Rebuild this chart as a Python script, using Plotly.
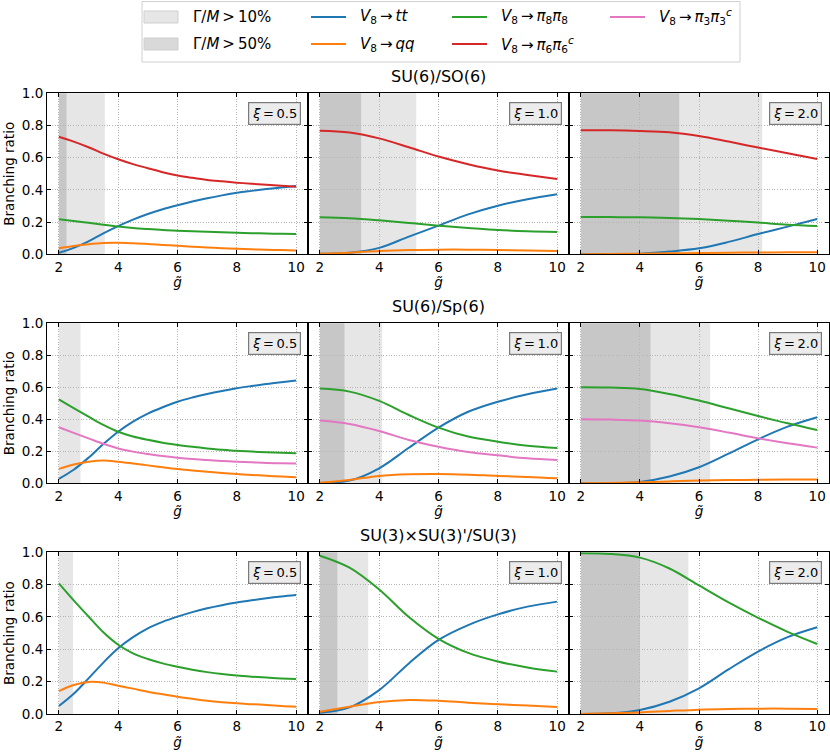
import plotly.graph_objects as go

# ---------------- data ----------------
G_COARSE = [2, 3, 4, 5, 6, 7, 8, 9, 10]
G_FINE = [2, 2.5, 3, 3.5, 4, 4.5, 5, 5.5, 6, 6.5, 7, 7.5, 8, 8.5, 9, 9.5, 10]

ROW_TITLES = ["SU(6)/SO(6)", "SU(6)/Sp(6)", "SU(3)×SU(3)'/SU(3)"]
XI_LABELS = ["0.5", "1.0", "2.0"]
X_TICKS = [2, 4, 6, 8, 10]
Y_TICKS = [0.0, 0.2, 0.4, 0.6, 0.8, 1.0]

# SU(6)/SO(6), xi = 0.5 (G_FINE)
SO6_05_TT = [0.01, 0.04, 0.08, 0.13, 0.175, 0.215, 0.25, 0.28, 0.305, 0.328, 0.348, 0.366, 0.382, 0.394, 0.405, 0.415, 0.424]
SO6_05_QQ = [0.037, 0.052, 0.063, 0.07, 0.071, 0.068, 0.064, 0.058, 0.053, 0.047, 0.042, 0.038, 0.034, 0.031, 0.028, 0.026, 0.024]
SO6_05_P8 = [0.217, 0.207, 0.196, 0.184, 0.173, 0.164, 0.157, 0.151, 0.147, 0.143, 0.14, 0.137, 0.134, 0.131, 0.129, 0.127, 0.126]
SO6_05_P6 = [0.73, 0.70, 0.665, 0.625, 0.59, 0.56, 0.535, 0.51, 0.49, 0.475, 0.462, 0.453, 0.445, 0.438, 0.432, 0.426, 0.42]
# SU(6)/SO(6), xi = 1.0 (G_COARSE)
SO6_10_TT = [0.004, 0.01, 0.04, 0.11, 0.178, 0.248, 0.302, 0.342, 0.373]
SO6_10_QQ = [0.004, 0.01, 0.021, 0.027, 0.029, 0.029, 0.027, 0.023, 0.021]
SO6_10_P8 = [0.23, 0.224, 0.211, 0.195, 0.178, 0.164, 0.151, 0.143, 0.139]
SO6_10_P6 = [0.768, 0.756, 0.72, 0.665, 0.607, 0.559, 0.52, 0.493, 0.468]
# SU(6)/SO(6), xi = 2.0 (G_COARSE)
SO6_20_TT = [0.0, 0.0, 0.004, 0.017, 0.037, 0.077, 0.126, 0.172, 0.219]
SO6_20_QQ = [0.001, 0.002, 0.004, 0.006, 0.008, 0.01, 0.011, 0.012, 0.013]
SO6_20_P8 = [0.232, 0.231, 0.23, 0.226, 0.219, 0.209, 0.197, 0.184, 0.176]
SO6_20_P6 = [0.77, 0.77, 0.766, 0.758, 0.735, 0.70, 0.663, 0.627, 0.592]

# SU(6)/Sp(6), xi = 0.5 (G_FINE)
SP6_05_TT = [0.028, 0.085, 0.16, 0.245, 0.322, 0.385, 0.435, 0.475, 0.51, 0.536, 0.558, 0.577, 0.594, 0.608, 0.621, 0.632, 0.642]
SP6_05_QQ = [0.09, 0.118, 0.135, 0.142, 0.135, 0.124, 0.112, 0.1, 0.089, 0.08, 0.072, 0.065, 0.058, 0.052, 0.047, 0.042, 0.038]
SP6_05_P8 = [0.525, 0.47, 0.417, 0.365, 0.322, 0.293, 0.272, 0.254, 0.24, 0.228, 0.218, 0.21, 0.203, 0.198, 0.194, 0.191, 0.188]
SP6_05_P3 = [0.35, 0.315, 0.281, 0.247, 0.218, 0.198, 0.183, 0.17, 0.16, 0.152, 0.146, 0.14, 0.135, 0.131, 0.127, 0.125, 0.123]
# SU(6)/Sp(6), xi = 1.0 (G_COARSE)
SP6_10_TT = [0.002, 0.017, 0.094, 0.222, 0.348, 0.447, 0.51, 0.556, 0.592]
SP6_10_QQ = [0.004, 0.021, 0.046, 0.056, 0.058, 0.054, 0.046, 0.04, 0.031]
SP6_10_P8 = [0.592, 0.573, 0.515, 0.427, 0.348, 0.292, 0.26, 0.235, 0.221]
SP6_10_P3 = [0.392, 0.371, 0.327, 0.271, 0.229, 0.196, 0.175, 0.156, 0.146]
# SU(6)/Sp(6), xi = 2.0 (G_COARSE)
SP6_20_TT = [0.0, 0.0, 0.008, 0.042, 0.10, 0.185, 0.275, 0.354, 0.413]
SP6_20_QQ = [0.0, 0.002, 0.006, 0.012, 0.017, 0.02, 0.022, 0.023, 0.023]
SP6_20_P8 = [0.60, 0.598, 0.59, 0.558, 0.517, 0.469, 0.421, 0.375, 0.333]
SP6_20_P3 = [0.40, 0.398, 0.392, 0.375, 0.35, 0.317, 0.281, 0.25, 0.223]

# SU(3)xSU(3)'/SU(3), xi = 0.5 (G_FINE)
SU3_05_TT = [0.049, 0.125, 0.22, 0.318, 0.406, 0.475, 0.53, 0.57, 0.602, 0.63, 0.654, 0.673, 0.689, 0.703, 0.716, 0.727, 0.736]
SU3_05_QQ = [0.142, 0.179, 0.198, 0.194, 0.175, 0.157, 0.138, 0.122, 0.107, 0.094, 0.082, 0.073, 0.066, 0.061, 0.056, 0.05, 0.045]
SU3_05_P8 = [0.808, 0.703, 0.603, 0.505, 0.428, 0.375, 0.34, 0.313, 0.292, 0.274, 0.259, 0.247, 0.238, 0.231, 0.225, 0.22, 0.216]
# SU(3)xSU(3)'/SU(3), xi = 1.0 (G_COARSE)
SU3_10_TT = [0.008, 0.041, 0.148, 0.313, 0.458, 0.55, 0.616, 0.664, 0.695]
SU3_10_QQ = [0.014, 0.045, 0.074, 0.087, 0.082, 0.07, 0.06, 0.052, 0.043]
SU3_10_P8 = [0.979, 0.905, 0.77, 0.60, 0.465, 0.378, 0.325, 0.288, 0.262]
# SU(3)xSU(3)'/SU(3), xi = 2.0 (G_COARSE)
SU3_20_TT = [0.0, 0.004, 0.025, 0.076, 0.159, 0.276, 0.386, 0.475, 0.536]
SU3_20_QQ = [0.0, 0.004, 0.01, 0.019, 0.027, 0.031, 0.033, 0.033, 0.031]
SU3_20_P8 = [0.994, 0.99, 0.967, 0.90, 0.795, 0.69, 0.595, 0.508, 0.433]

# Gamma/M bands: upper g-tilde edge (lower edge is g = 2); None = no band
BAND10_END = [[3.55, 5.25, 8.14], [2.73, 4.10, 6.38], [2.48, 3.63, 5.64]]
BAND50_END = [[2.26, 3.39, 5.33], [None, 2.83, 4.36], [None, 2.59, 4.00]]
BAND_START = 2.0

# ---------------- style ----------------
C_TT, C_QQ, C_P8, C_P6, C_P3 = "#1f77b4", "#ff7f0e", "#2ca02c", "#d62728", "#e377c2"
FONT = "DejaVu Sans"
TS = "\u2009"  # thin space

W, H = 830, 756
L, R, T, B = 47, 1, 93, 42
PW, PH = W - L - R, H - T - B
COL_PX = [(47, 308), (308, 569), (569, 829)]
ROW_PX = [(93.3, 254.3), (323.3, 483.3), (552.3, 714.0)]


def px_x(p):
    return (p - L) / PW


def px_y(p):
    return (H - B - p) / PH


panels = [
    [
        (G_FINE, [(SO6_05_TT, C_TT), (SO6_05_QQ, C_QQ), (SO6_05_P8, C_P8), (SO6_05_P6, C_P6)]),
        (G_COARSE, [(SO6_10_TT, C_TT), (SO6_10_QQ, C_QQ), (SO6_10_P8, C_P8), (SO6_10_P6, C_P6)]),
        (G_COARSE, [(SO6_20_TT, C_TT), (SO6_20_QQ, C_QQ), (SO6_20_P8, C_P8), (SO6_20_P6, C_P6)]),
    ],
    [
        (G_FINE, [(SP6_05_TT, C_TT), (SP6_05_QQ, C_QQ), (SP6_05_P8, C_P8), (SP6_05_P3, C_P3)]),
        (G_COARSE, [(SP6_10_TT, C_TT), (SP6_10_QQ, C_QQ), (SP6_10_P8, C_P8), (SP6_10_P3, C_P3)]),
        (G_COARSE, [(SP6_20_TT, C_TT), (SP6_20_QQ, C_QQ), (SP6_20_P8, C_P8), (SP6_20_P3, C_P3)]),
    ],
    [
        (G_FINE, [(SU3_05_TT, C_TT), (SU3_05_QQ, C_QQ), (SU3_05_P8, C_P8)]),
        (G_COARSE, [(SU3_10_TT, C_TT), (SU3_10_QQ, C_QQ), (SU3_10_P8, C_P8)]),
        (G_COARSE, [(SU3_20_TT, C_TT), (SU3_20_QQ, C_QQ), (SU3_20_P8, C_P8)]),
    ],
]

fig = go.Figure()
layout = {}
shapes = []
annotations = []

for r in range(3):
    for c in range(3):
        idx = r * 3 + c + 1
        xs = "x" if idx == 1 else f"x{idx}"
        ys = "y" if idx == 1 else f"y{idx}"
        xkey = "xaxis" if idx == 1 else f"xaxis{idx}"
        ykey = "yaxis" if idx == 1 else f"yaxis{idx}"
        x0, x1 = COL_PX[c]
        y0, y1 = ROW_PX[r]
        common = dict(
            ticks="inside", ticklen=4, tickwidth=1, tickcolor="black",
            mirror="allticks", showline=True, linecolor="black", linewidth=1,
            showgrid=True, gridcolor="#b5b5b5", griddash="1px,1.6px", gridwidth=0.8,
            zeroline=False, tickfont=dict(family=FONT, size=13.5, color="black"),
        )
        layout[xkey] = dict(
            common, domain=[px_x(x0), px_x(x1)], anchor=ys, range=[1.6, 10.4],
            tickvals=X_TICKS, ticktext=[str(v) for v in X_TICKS],
            title=dict(text="<i>g̃</i>", font=dict(family=FONT, size=13.5, color="black"), standoff=2),
        )
        layout[ykey] = dict(
            common, domain=[px_y(y1), px_y(y0)], anchor=xs, range=[0, 1],
            tickvals=Y_TICKS, ticktext=[f"{v:.1f}" for v in Y_TICKS],
            showticklabels=(c == 0),
            title=dict(text="Branching ratio" if c == 0 else "",
                       font=dict(family=FONT, size=13.5, color="black"), standoff=4),
        )
        shapes.append(dict(type="rect", xref=xs, yref=f"{ys} domain", x0=BAND_START,
                           x1=BAND10_END[r][c], y0=0, y1=1, fillcolor="#e6e6e6",
                           line=dict(width=0), layer="below"))
        if BAND50_END[r][c] is not None:
            shapes.append(dict(type="rect", xref=xs, yref=f"{ys} domain", x0=BAND_START,
                               x1=BAND50_END[r][c], y0=0, y1=1, fillcolor="rgba(128,128,128,0.3)",
                               line=dict(width=0), layer="below"))
        gx, series = panels[r][c]
        for vals, col in series:
            fig.add_trace(go.Scatter(x=gx, y=vals, mode="lines", xaxis=xs, yaxis=ys,
                                     line=dict(color=col, width=2, shape="spline", smoothing=1.0),
                                     showlegend=False, hoverinfo="skip"))
        annotations.append(dict(xref=f"{xs} domain", yref=f"{ys} domain", x=0.972, y=0.945,
                                xanchor="right", yanchor="top", showarrow=False,
                                text=f"<i>ξ</i>{TS}={TS}{XI_LABELS[c]}",
                                font=dict(family=FONT, size=13, color="black"),
                                bgcolor="#ececec", bordercolor="#7a7a7a", borderwidth=1.2,
                                borderpad=3))
    annotations.append(dict(xref="paper", yref="paper", x=0.5, y=px_y(ROW_PX[r][0] - 17),
                            xanchor="center", yanchor="middle", showarrow=False,
                            text=ROW_TITLES[r], font=dict(family=FONT, size=16, color="black")))

# ---------------- manual legend ----------------
LEG_FONT = dict(family=FONT, size=15, color="black")
shapes.append(dict(type="rect", xref="paper", yref="paper", x0=px_x(142), x1=px_x(740),
                   y0=px_y(62), y1=px_y(1.5), line=dict(color="#d0d0d0", width=1),
                   fillcolor="white", layer="above"))
ROW_Y = [17, 44]
ARROW = f"{TS}→{TS}"
legend_items = [
    ("patch", "#e6e6e6", f"Γ/<i>M</i>{TS}>{TS}10%", 144, 0),
    ("patch", "#d9d9d9", f"Γ/<i>M</i>{TS}>{TS}50%", 144, 1),
    ("line", C_TT, f"<i>V</i><sub>8</sub>{ARROW}<i>tt</i>", 311, 0),
    ("line", C_QQ, f"<i>V</i><sub>8</sub>{ARROW}<i>qq</i>", 311, 1),
    ("line", C_P8, f"<i>V</i><sub>8</sub>{ARROW}<i>π</i><sub>8</sub><i>π</i><sub>8</sub>", 452, 0),
    ("line", C_P6, f"<i>V</i><sub>8</sub>{ARROW}<i>π</i><sub>6</sub><i>π</i><sub>6</sub><sup><i>c</i></sup>", 452, 1),
    ("line", C_P3, f"<i>V</i><sub>8</sub>{ARROW}<i>π</i><sub>3</sub><i>π</i><sub>3</sub><sup><i>c</i></sup>", 610, 0),
]
for kind, col, txt, hx, row in legend_items:
    yc = ROW_Y[row]
    if kind == "patch":
        shapes.append(dict(type="rect", xref="paper", yref="paper", x0=px_x(hx), x1=px_x(hx + 34),
                           y0=px_y(yc + 6), y1=px_y(yc - 6), fillcolor=col,
                           line=dict(color="#cfcfcf", width=1), layer="above"))
    else:
        shapes.append(dict(type="line", xref="paper", yref="paper", x0=px_x(hx), x1=px_x(hx + 35),
                           y0=px_y(yc), y1=px_y(yc), line=dict(color=col, width=2), layer="above"))
    annotations.append(dict(xref="paper", yref="paper", x=px_x(hx + 47), y=px_y(yc),
                            xanchor="left", yanchor="middle", showarrow=False, text=txt,
                            font=LEG_FONT))

fig.update_layout(
    width=W, height=H, margin=dict(l=L, r=R, t=T, b=B, autoexpand=False),
    paper_bgcolor="white", plot_bgcolor="white",
    font=dict(family=FONT, color="black"),
    shapes=shapes, annotations=annotations, showlegend=False,
    **layout,
)

fig.write_html("out.html", config={"displayModeBar": False},
               post_script="document.body.style.margin='0';document.body.style.overflow='hidden';")
